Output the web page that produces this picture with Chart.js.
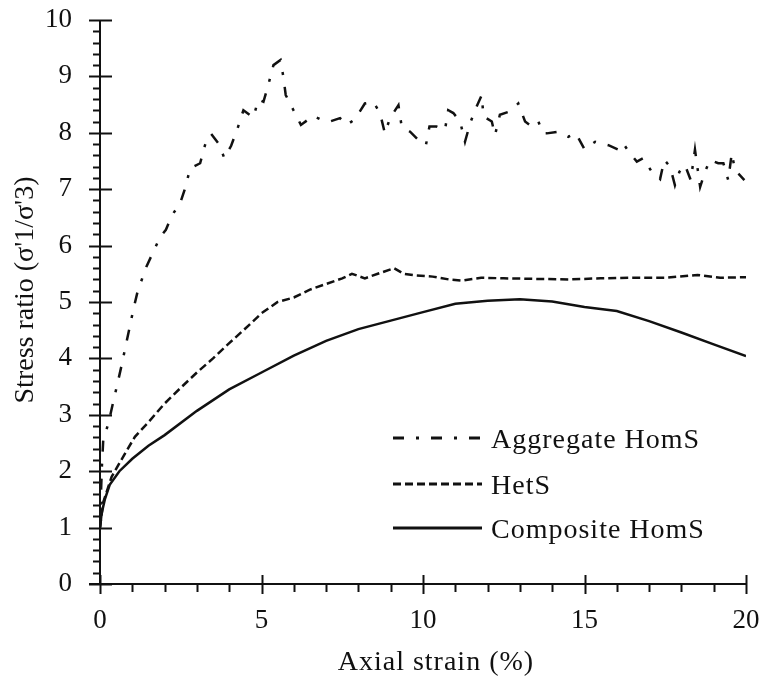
<!DOCTYPE html>
<html>
<head>
<meta charset="utf-8">
<script src="https://cdn.jsdelivr.net/npm/chart.js@4.4.1/dist/chart.umd.min.js"></script>
<style>
  html, body { margin: 0; padding: 0; background: #fff; }
  #wrap { width: 766px; height: 682px; }
</style>
</head>
<body>
<div id="wrap"><canvas id="chart" width="766" height="682"></canvas></div>
<script>
// ─── DATA ───────────────────────────────────────────────────────────
const seriesNames = ['Aggregate HomS', 'HetS', 'Composite HomS'];

// Aggregate HomS (dash-dot)
const aggX = [0, 0.03, 0.06, 0.1, 0.26, 0.41, 0.52, 0.67, 0.79, 0.91, 1.03, 1.17, 1.29, 1.44, 1.65, 1.86, 2.04, 2.22, 2.48, 2.65,
  2.79, 3.1, 3.25, 3.44, 3.68, 3.85, 4.06, 4.26, 4.44, 4.75, 4.9, 5.06, 5.21, 5.37, 5.59, 5.68, 5.75, 5.99, 6.22, 6.6,
  6.86, 7.12, 7.43, 7.64, 7.89, 8.2, 8.46, 8.67, 8.82, 8.98, 9.08, 9.24, 9.34, 9.6, 9.86, 10.09, 10.2, 10.42, 10.68, 10.78,
  10.94, 11.15, 11.3, 11.46, 11.61, 11.82, 11.87, 12.13, 12.23, 12.38, 12.64, 12.95, 13.16, 13.37, 13.57, 13.72, 13.83, 14.19, 14.5, 14.73,
  15.0, 15.33, 15.74, 16.05, 16.2, 16.4, 16.62, 16.82, 17.08, 17.34, 17.47, 17.65, 17.8, 17.94, 18.11, 18.29, 18.42, 18.58, 18.73, 18.89,
  19.14, 19.3, 19.45, 19.56, 19.66, 19.95];
const aggY = [1.0, 1.6, 2.1, 2.55, 2.85, 3.23, 3.5, 3.88, 4.21, 4.53, 4.86, 5.2, 5.39, 5.63, 5.89, 6.15, 6.28, 6.53, 6.75, 7.04,
  7.37, 7.46, 7.78, 7.98, 7.8, 7.55, 7.77, 8.08, 8.4, 8.27, 8.59, 8.55, 8.85, 9.2, 9.29, 8.98, 8.67, 8.4, 8.14, 8.3,
  8.23, 8.2, 8.26, 8.14, 8.24, 8.52, 8.55, 8.35, 7.99, 8.26, 8.35, 8.49, 8.11, 8.02, 7.87, 7.78, 8.11, 8.11, 8.05, 8.4,
  8.35, 8.2, 7.84, 8.17, 8.4, 8.67, 8.29, 8.2, 7.96, 8.32, 8.37, 8.52, 8.2, 8.11, 8.2, 7.99, 7.99, 8.02, 7.93, 7.99,
  7.71, 7.84, 7.78, 7.7, 7.81, 7.64, 7.49, 7.55, 7.31, 7.18, 7.52, 7.4, 7.07, 7.31, 7.43, 7.16, 7.7, 7.04, 7.31, 7.52,
  7.46, 7.46, 7.16, 7.64, 7.34, 7.16];

// HetS (dashed)
const hetX = [0, 0.1, 0.36, 0.72, 1.08, 1.5, 2, 2.5, 3, 3.5, 4, 4.5, 5, 5.5, 6, 6.5, 7, 7.5, 7.8, 8.2,
  8.6, 9.1, 9.4, 9.8, 10.3, 10.8, 11.2, 11.8, 12.5, 13.5, 14.5, 15.5, 16.5, 17.5, 18.5, 19.2, 20];
const hetY = [1.0, 1.45, 1.9, 2.26, 2.61, 2.87, 3.2, 3.48, 3.75, 4.0, 4.27, 4.53, 4.8, 5.0, 5.08, 5.22, 5.32, 5.42, 5.5, 5.42,
  5.5, 5.6, 5.5, 5.47, 5.45, 5.4, 5.38, 5.43, 5.42, 5.41, 5.4, 5.42, 5.43, 5.43, 5.48, 5.43, 5.44];

// Composite HomS (solid)
const compX = [0, 0.05, 0.15, 0.3, 0.6, 1, 1.5, 2, 3, 4, 5, 6, 7, 8, 9, 10, 11, 12, 13, 14, 15, 16, 17, 18, 19, 20];
const compY = [1.0, 1.25, 1.5, 1.76, 2.0, 2.22, 2.45, 2.64, 3.07, 3.45, 3.75, 4.05, 4.31, 4.52, 4.67, 4.82, 4.97, 5.02, 5.05, 5.01,
  4.91, 4.84, 4.66, 4.46, 4.25, 4.04];

const xMajorTicks = [0, 5, 10, 15, 20];
const yMajorTicks = [0, 1, 2, 3, 4, 5, 6, 7, 8, 9, 10];
const xTitle = 'Axial strain (%)';
const yTitle = "Stress ratio (σ'1/σ'3)";

// ─── STYLE ──────────────────────────────────────────────────────────
const FONT = "'Liberation Serif', 'Times New Roman', serif";
const INK = '#111';
const toPts = (xs, ys) => xs.map((x, i) => ({ x, y: ys[i] }));

// axes lines + crossing major ticks + minor ticks
const axisPlugin = {
  id: 'axisTicks',
  afterDraw(chart) {
    const { ctx, scales: { x, y } } = chart;
    const x0 = x.getPixelForValue(0), y0 = y.getPixelForValue(0);
    const seg = (a, b, c, d) => { ctx.beginPath(); ctx.moveTo(a, b); ctx.lineTo(c, d); ctx.stroke(); };
    ctx.save();
    ctx.strokeStyle = INK;
    ctx.lineWidth = 2;
    seg(x0, y.getPixelForValue(10), x0, y0);
    seg(x0 - 11, y0, x.getPixelForValue(20), y0);
    // y ticks
    for (let v = 0; v <= 10.001; v += 0.2) {
      const py = Math.round(y.getPixelForValue(v)) + 0.5;
      if (yMajorTicks.some(t => Math.abs(t - v) < 1e-6)) seg(x0 - 11, py, x0 + 12, py);
      else seg(x0 - 7, py, x0, py);
    }
    // x ticks
    for (let v = 0; v <= 20.001; v += 1) {
      const px = Math.round(x.getPixelForValue(v)) + 0.5;
      if (xMajorTicks.includes(v)) seg(px, y0 - 9, px, y0 + 10);
      else seg(px, y0, px, y0 + 8);
    }
    ctx.restore();
  }
};

// axis titles and legend drawn as canvas text
const labelPlugin = {
  id: 'labels',
  afterDraw(chart) {
    const { ctx, chartArea: ca } = chart;
    ctx.save();
    ctx.fillStyle = INK;
    ctx.font = `28px ${FONT}`;
    ctx.textAlign = 'center';
    ctx.textBaseline = 'middle';
    ctx.letterSpacing = '1px';
    ctx.fillText(xTitle, ca.left + (ca.right - ca.left) * 0.52, 663);
    ctx.letterSpacing = '0px';
    ctx.translate(26, 290);
    ctx.rotate(-Math.PI / 2);
    ctx.fillText(yTitle, 0, 0);
    ctx.restore();

    // legend
    const rows = [438, 484, 528];
    ctx.save();
    ctx.font = `28px ${FONT}`;
    ctx.letterSpacing = '1px';
    ctx.fillStyle = INK;
    ctx.textAlign = 'left';
    ctx.textBaseline = 'alphabetic';
    chart.data.datasets.forEach((ds, i) => {
      const ly = rows[i];
      ctx.strokeStyle = INK;
      ctx.lineWidth = 3;
      ctx.setLineDash(ds.borderDash || []);
      ctx.beginPath();
      ctx.moveTo(393, ly);
      ctx.lineTo(482, ly);
      ctx.stroke();
      ctx.setLineDash([]);
      ctx.fillText(ds.label, 491, ly + 9.5);
    });
    ctx.restore();
  }
};

new Chart(document.getElementById('chart'), {
  type: 'line',
  data: {
    datasets: [
      { label: seriesNames[0], data: toPts(aggX, aggY), borderColor: INK, borderWidth: 2.5, borderDash: [11, 12, 3, 12] },
      { label: seriesNames[1], data: toPts(hetX, hetY), borderColor: INK, borderWidth: 2.5, borderDash: [8, 4] },
      { label: seriesNames[2], data: toPts(compX, compY), borderColor: INK, borderWidth: 2.5 }
    ]
  },
  options: {
    responsive: false,
    animation: false,
    layout: { padding: { top: 20, right: 20, left: 0, bottom: 0 } },
    elements: { point: { radius: 0 }, line: { tension: 0 } },
    plugins: { legend: { display: false }, tooltip: { enabled: false } },
    scales: {
      x: {
        type: 'linear', min: 0, max: 20,
        grid: { display: false, drawTicks: false },
        border: { display: false },
        ticks: { stepSize: 5, padding: 21, color: INK, font: { family: FONT, size: 27 }, maxRotation: 0 },
        afterFit: s => { s.height = 98; s.paddingLeft = 0; s.paddingRight = 0; }
      },
      y: {
        min: 0, max: 10,
        grid: { display: false, drawTicks: false },
        border: { display: false },
        ticks: { stepSize: 1, padding: 28, color: INK, font: { family: FONT, size: 27 } },
        afterFit: s => { s.width = 100; s.paddingTop = 0; s.paddingBottom = 0; }
      }
    }
  },
  plugins: [axisPlugin, labelPlugin]
});
</script>
</body>
</html>
